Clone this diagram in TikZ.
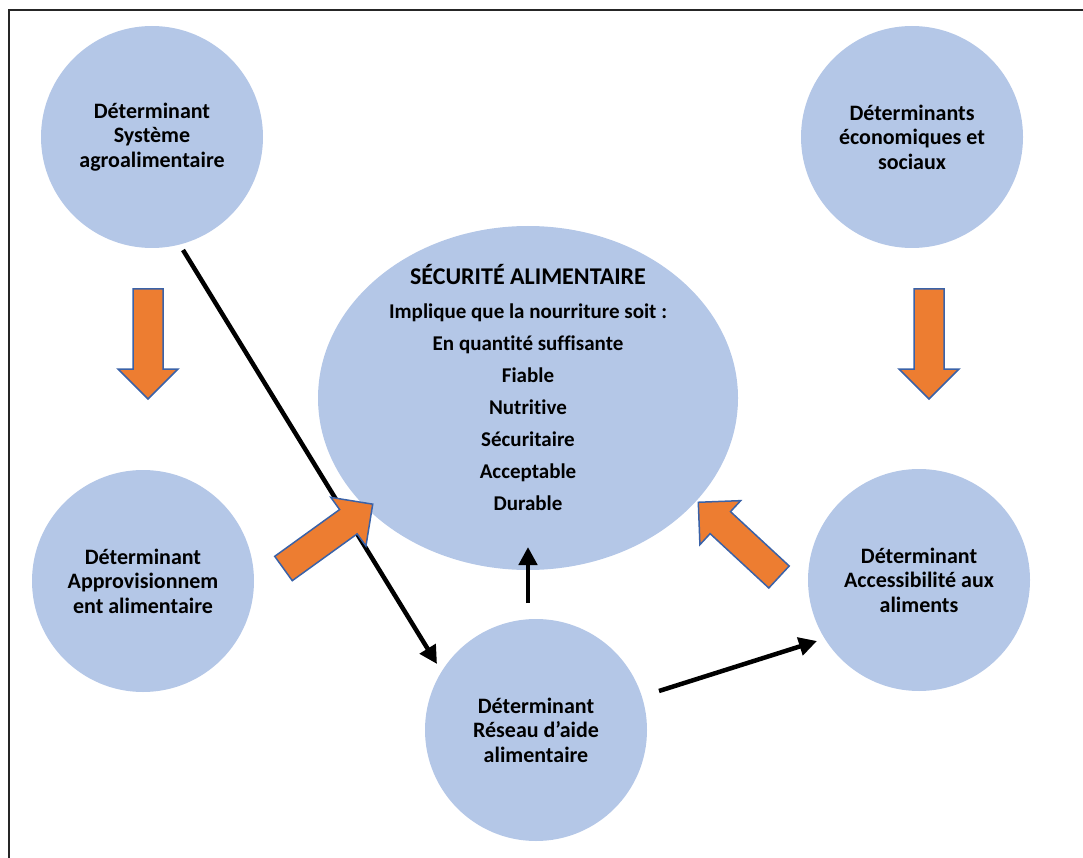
\documentclass[tikz,border=0pt]{standalone}
\usepackage{fontspec}
\setmainfont{Carlito}[RawFeature=-liga]
\usetikzlibrary{arrows.meta,shapes.geometric}
\definecolor{disc}{HTML}{B4C7E7}
\definecolor{blockorange}{HTML}{ED7D31}
\definecolor{blockedge}{HTML}{3A62A8}
\definecolor{frameline}{HTML}{262626}
% block arrow: tail centre (#1,#2), pointing at angle #3
\newcommand\blockarrowat[4]{%
  \path[bigarrow, shift={(#1,#2)}, rotate=#3] (0,-15) -- (80,-15) -- (80,-30)
    -- (110,0) -- (80,30) -- (80,15) -- (0,15) -- cycle;}
\begin{document}
\begin{tikzpicture}[x=1pt,y=-1pt,
  det/.style={circle, fill=disc, minimum size=222pt, inner sep=0pt, align=center,
    font=\bfseries\fontsize{22}{24.5}\selectfont},
  link/.style={line width=4.5pt, draw=black, -{Triangle[length=18pt,width=18pt]}},
  bigarrow/.style={fill=blockorange, draw=blockedge, line width=1.5pt, line join=miter}]
\useasboundingbox (0,0) rectangle (1083,858);

% open frame (left and top edges)
\draw[frameline, line width=2pt] (9,858) -- (9,10) -- (1083,10);

% determinant discs
\node[det] (agro) at (152,137) {Déterminant\\Système\\agroalimentaire};
\node[det] (eco) at (912,137) {Déterminants\\économiques et\\sociaux};
\node[det] (appro) at (143,581) {Déterminant\\Approvisionnem\\ent alimentaire};
\node[det] (access) at (919,580) {Déterminant\\Accessibilité aux\\aliments};
\node[det] (reseau) at (536,730) {Déterminant\\Réseau d’aide\\alimentaire};

% central ellipse
\node[ellipse, fill=disc, minimum width=420pt, minimum height=344pt, inner sep=0pt] (secu) at (528,398) {};
\node[align=center, font=\bfseries\fontsize{21}{32}\selectfont] (sectext) at (528,387)
  {{\fontsize{24}{32}\selectfont SÉCURITÉ ALIMENTAIRE}\\[2pt]
   Implique que la nourriture soit :\\
   En quantité suffisante\\
   Fiable\\
   Nutritive\\
   Sécuritaire\\
   Acceptable\\
   Durable};

% connector end points
\coordinate (agroOut) at (183,250);
\coordinate (reseauIn) at (437,664);
\coordinate (reseauUp) at (528,603);
\coordinate (secuIn) at (528,547);
\coordinate (reseauOut) at (659,691);
\coordinate (accessIn) at (817,641);

\draw[link] (agroOut) -- (reseauIn);
\draw[link] (reseauUp) -- (secuIn);
\draw[link] (reseauOut) -- (accessIn);

% orange block arrows
\blockarrowat{148}{289}{-90}{}
\blockarrowat{929}{289}{-90}{}
\blockarrowat{283.5}{568.5}{35.8}{}
\blockarrowat{779}{577}{137.2}{}
\end{tikzpicture}
\end{document}
